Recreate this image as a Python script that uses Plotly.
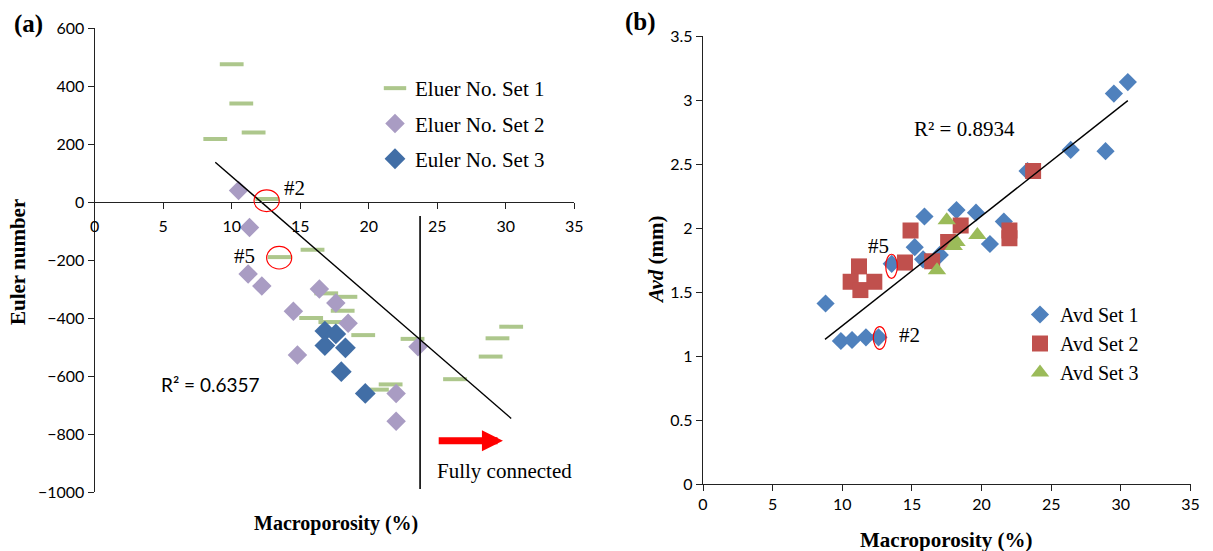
import plotly.graph_objects as go

# ---------------- Data: panel (a) ----------------
set1_x = [10.0, 10.7, 11.6, 8.8, 12.6, 15.9, 13.5, 16.9, 18.3, 18.1, 15.8, 17.2, 19.6, 23.2, 21.6, 20.6, 26.3, 30.4, 29.4, 28.9]
set1_y = [475, 340, 240, 217, 10, -165, -190, -315, -327, -375, -400, -414, -459, -472, -629, -647, -611, -430, -470, -533]
set2_x = [10.5, 11.3, 11.2, 12.2, 16.4, 17.6, 14.5, 18.5, 14.8, 23.6, 22.0, 22.0]
set2_y = [40, -88, -248, -290, -300, -348, -377, -418, -528, -499, -660, -756]
set3_x = [16.8, 17.6, 16.8, 18.3, 18.0, 19.75]
set3_y = [-445, -455, -495, -503, -585, -660]

trend_a_x = [8.8, 30.4]
trend_a_slope, trend_a_icpt = -40.9, 497
vline_x = [23.75, 23.75]
vline_y = [-48, -990]

# ---------------- Data: panel (b) ----------------
avd1_x = [15.9, 18.2, 19.6, 21.6, 15.2, 20.6, 13.55, 15.8, 17.0, 8.8, 9.9, 10.7, 11.7, 12.6, 30.5, 29.5, 26.4, 28.9, 23.3]
avd1_y = [2.09, 2.14, 2.12, 2.05, 1.85, 1.875, 1.72, 1.755, 1.79, 1.41, 1.117, 1.125, 1.146, 1.146, 3.14, 3.05, 2.61, 2.60, 2.445]
avd2_x = [14.9, 18.5, 22.0, 22.0, 17.6, 16.45, 14.5, 11.2, 10.6, 12.3, 11.3, 23.7]
avd2_y = [1.98, 2.02, 1.98, 1.92, 1.89, 1.74, 1.73, 1.70, 1.58, 1.58, 1.515, 2.445]
avd3_x = [17.5, 19.7, 18.2, 18.0, 16.8]
avd3_y = [2.06, 1.945, 1.89, 1.86, 1.67]

trend_b_x = [8.76, 30.5]
trend_b_slope, trend_b_icpt = 0.0858, 0.378

x_ticks = [0, 5, 10, 15, 20, 25, 30, 35]
ya_ticks = [600, 400, 200, 0, -200, -400, -600, -800, -1000]
yb_ticks = [0, 0.5, 1, 1.5, 2, 2.5, 3, 3.5]

# ---------------- Figure ----------------
W, H = 1213, 551
SERIF = "Liberation Serif"
SANS = "Lato"

def px_x(p):
    return p / W

def px_y(p):
    return 1 - p / H

fig = go.Figure()

# Panel (a)
fig.add_trace(go.Scatter(x=set1_x, y=set1_y, mode="markers", name="Eluer No. Set 1",
                         marker=dict(symbol="line-ew", size=17, color="#adc78c",
                                     line=dict(width=4, color="#adc78c")),
                         xaxis="x", yaxis="y", legend="legend", legendgroup="a1"))
fig.add_trace(go.Scatter(x=set2_x, y=set2_y, mode="markers", name="Eluer No. Set 2",
                         marker=dict(symbol="diamond", size=15, color="#a99cc3"),
                         xaxis="x", yaxis="y", legend="legend", legendgroup="a2"))
fig.add_trace(go.Scatter(x=set3_x, y=set3_y, mode="markers", name="Euler No. Set 3",
                         marker=dict(symbol="diamond", size=16, color="#416ea6"),
                         xaxis="x", yaxis="y", legend="legend", legendgroup="a3"))
fig.add_trace(go.Scatter(x=trend_a_x, y=[trend_a_slope * v + trend_a_icpt for v in trend_a_x],
                         mode="lines", line=dict(color="black", width=1.4), showlegend=False,
                         xaxis="x", yaxis="y"))
fig.add_trace(go.Scatter(x=vline_x, y=vline_y, mode="lines", line=dict(color="black", width=1.6),
                         showlegend=False, xaxis="x", yaxis="y"))

# Panel (b)
fig.add_trace(go.Scatter(x=avd1_x, y=avd1_y, mode="markers", name="Avd Set 1",
                         marker=dict(symbol="diamond", size=14, color="#4f81bd"),
                         xaxis="x2", yaxis="y2", legend="legend2", legendgroup="b1"))
fig.add_trace(go.Scatter(x=avd2_x, y=avd2_y, mode="markers", name="Avd Set 2",
                         marker=dict(symbol="square", size=16, color="#c0504d"),
                         xaxis="x2", yaxis="y2", legend="legend2", legendgroup="b2"))
fig.add_trace(go.Scatter(x=avd3_x, y=avd3_y, mode="markers", name="Avd Set 3",
                         marker=dict(symbol="triangle-up", size=16, color="#9bbb59"),
                         xaxis="x2", yaxis="y2", legend="legend2", legendgroup="b3"))
fig.add_trace(go.Scatter(x=trend_b_x, y=[trend_b_slope * v + trend_b_icpt for v in trend_b_x],
                         mode="lines", line=dict(color="black", width=1.4), showlegend=False,
                         xaxis="x2", yaxis="y2"))

ya_dom = [px_y(492), px_y(28)]
yb_dom = [px_y(484), px_y(36)]
xa_pos = ya_dom[0] + (0 - (-1000)) / 1600 * (ya_dom[1] - ya_dom[0])

tickfont = dict(family=SANS, size=16, color="#000")
axis_common = dict(showgrid=False, zeroline=False, showline=True, linecolor="#222", linewidth=1.3,
                   ticks="outside", ticklen=6, tickcolor="#222", tickwidth=1.3, tickfont=tickfont,
                   automargin=False)

fig.update_layout(
    width=W, height=H, margin=dict(l=0, r=0, t=0, b=0, pad=0, autoexpand=False),
    paper_bgcolor="white", plot_bgcolor="white",
    xaxis=dict(domain=[px_x(94.7), px_x(574.2)], range=[0, 35], tickvals=x_ticks,
               anchor="free", position=xa_pos, ticklabelstandoff=4, **axis_common),
    yaxis=dict(domain=ya_dom, range=[-1000, 600], tickvals=ya_ticks, anchor="x", **axis_common),
    xaxis2=dict(domain=[px_x(703), px_x(1190.5)], range=[0, 35], tickvals=x_ticks, anchor="y2",
                **axis_common),
    yaxis2=dict(domain=yb_dom, range=[0, 3.5], tickvals=yb_ticks, anchor="x2", **axis_common),
    legend=dict(x=px_x(375), y=px_y(68), xanchor="left", yanchor="top",
                font=dict(family=SERIF, size=21, color="black"), bgcolor="rgba(0,0,0,0)",
                itemwidth=30, tracegroupgap=5),
    legend2=dict(x=px_x(1020), y=px_y(295), xanchor="left", yanchor="top",
                 font=dict(family=SERIF, size=20, color="black"), bgcolor="rgba(0,0,0,0)",
                 itemwidth=30, tracegroupgap=0),
)

# Red ellipses
circ_a = [(11.63, -33, 13.47, 42), (12.55, -231, 14.38, -153)]
circ_b = [(13.12, 1.607, 13.95, 1.795), (12.23, 1.052, 13.14, 1.229)]
for (x0, y0, x1, y1) in circ_a:
    fig.add_shape(type="circle", xref="x", yref="y", x0=x0, y0=y0, x1=x1, y1=y1,
                  line=dict(color="red", width=1.2))
for (x0, y0, x1, y1) in circ_b:
    fig.add_shape(type="circle", xref="x2", yref="y2", x0=x0, y0=y0, x1=x1, y1=y1,
                  line=dict(color="red", width=1.2))

def ann(text, x, y, xref, yref, size=21, family=SERIF, **kw):
    fig.add_annotation(text=text, x=x, y=y, xref=xref, yref=yref, showarrow=False,
                       xanchor="center", yanchor="middle",
                       font=dict(family=family, size=size, color="black"), **kw)

# Panel (a) annotations
ann("#2", 14.55, 48, "x", "y")
ann("#5", 10.97, -185, "x", "y")
ann("R² = 0.6357", 8.43, -631, "x", "y", size=19, family=SANS)
ann("Fully connected", 29.9, -927, "x", "y")
fig.add_annotation(x=29.8, y=-823, ax=25.0, ay=-823, xref="x", yref="y", axref="x", ayref="y",
                   showarrow=True, arrowhead=2, arrowsize=0.6, arrowwidth=7, arrowcolor="red", text="")

# Panel (b) annotations
ann("#5", 12.63, 1.862, "x2", "y2")
ann("#2", 14.86, 1.164, "x2", "y2")
ann("R² = 0.8934", 18.74, 2.773, "x2", "y2")

# Axis titles and panel labels (paper coords)
ann("<b>Euler number</b>", px_x(18), px_y(262), "paper", "paper", size=21, textangle=-90)
ann("<b>Macroporosity (%)</b>", px_x(336), px_y(523), "paper", "paper", size=20)
ann("<b><i>Avd</i> (mm)</b>", px_x(656), px_y(260), "paper", "paper", size=21, textangle=-90)
ann("<b>Macroporosity (%)</b>", px_x(946), px_y(540), "paper", "paper", size=21)
ann("<b>(a)</b>", px_x(28), px_y(24), "paper", "paper", size=25)
ann("<b>(b)</b>", px_x(640), px_y(22), "paper", "paper", size=25)

fig.write_html("out.html")
